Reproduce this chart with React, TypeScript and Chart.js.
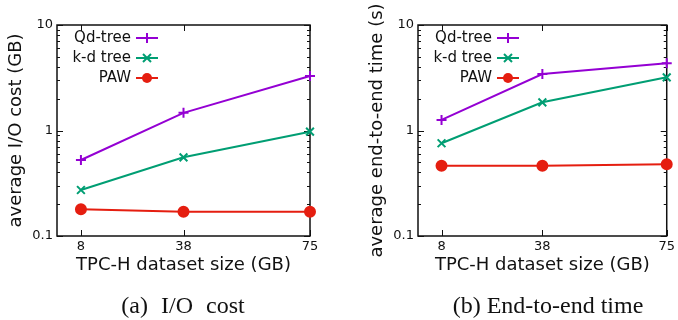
import React, { useEffect, useRef } from "react";
import { Chart, registerables } from "chart.js";
Chart.register(...registerables);

const sizes = [8, 38, 75];
const xTickValues = [8, 38, 75];
const yTickValues = [0.1, 1, 10];
const seriesNames = ["Qd-tree", "k-d tree", "PAW"];
const ioQd = [0.525, 1.47, 3.29];
const ioKd = [0.273, 0.557, 0.975];
const ioPaw = [0.179, 0.17, 0.17];
const timeQd = [1.26, 3.43, 4.33];
const timeKd = [0.757, 1.85, 3.19];
const timePaw = [0.464, 0.464, 0.478];
const colors = ["#9400D3", "#009E73", "#E51E10"];
const pointStyles = ["cross", "crossRot", "circle"];

const SANS = "'DejaVu Sans', sans-serif";
const SERIF = "'Liberation Serif', 'Times New Roman', serif";

type PanelProps = {
  canvasLeft: number;
  chartLeft: number;
  chartRight: number;
  yTitle: string;
  series: number[][];
};

function Panel({ canvasLeft, chartLeft, chartRight, yTitle, series }: PanelProps) {
  const ref = useRef<HTMLCanvasElement | null>(null);
  useEffect(() => {
    if (!ref.current) return;
    const W = 339;
    const H = 320;
    const top = 25;
    const bottom = 236;
    const xH = 40;
    const yW = 57;
    const framePlugin = {
      id: "frame",
      beforeDatasetsDraw(chart: any) {
        const { ctx, chartArea: ca } = chart;
        const ys = chart.scales.y;
        const xs = chart.scales.x;
        ctx.save();
        ctx.strokeStyle = "#111";
        ctx.lineWidth = 1;
        for (const d of [0.1, 1]) {
          for (let m = 2; m <= 9; m++) {
            const py = Math.round(ys.getPixelForValue(m * d)) + 0.5;
            ctx.beginPath();
            ctx.moveTo(ca.left, py);
            ctx.lineTo(ca.left + 3, py);
            ctx.moveTo(ca.right, py);
            ctx.lineTo(ca.right - 3, py);
            ctx.stroke();
          }
        }
        for (const v of yTickValues) {
          const py = Math.round(ys.getPixelForValue(v)) + 0.5;
          ctx.beginPath();
          ctx.moveTo(ca.left, py);
          ctx.lineTo(ca.left + 6, py);
          ctx.moveTo(ca.right, py);
          ctx.lineTo(ca.right - 6, py);
          ctx.stroke();
        }
        for (const v of xTickValues) {
          const px = Math.round(xs.getPixelForValue(v)) + 0.5;
          ctx.beginPath();
          ctx.moveTo(px, ca.bottom);
          ctx.lineTo(px, ca.bottom - 6);
          ctx.moveTo(px, ca.top);
          ctx.lineTo(px, ca.top + 6);
          ctx.stroke();
        }
        ctx.lineWidth = 1.5;
        ctx.strokeStyle = "#111";
        ctx.strokeRect(ca.left, ca.top, ca.right - ca.left, ca.bottom - ca.top);
        ctx.restore();
      },
      afterDatasetsDraw(chart: any) {
        const { ctx, chartArea: ca } = chart;
        ctx.save();
        ctx.font = `15px ${SANS}`;
        ctx.textAlign = "right";
        ctx.textBaseline = "middle";
        seriesNames.forEach((name, i) => {
          const y = ca.top + 13 + i * 20;
          ctx.fillStyle = "#111";
          ctx.fillText(name, ca.left + 74, y);
          ctx.strokeStyle = colors[i];
          ctx.lineWidth = 2;
          ctx.beginPath();
          ctx.moveTo(ca.left + 79, y);
          ctx.lineTo(ca.left + 101, y);
          ctx.stroke();
          const cx = ca.left + 90;
          if (i === 0) {
            ctx.beginPath();
            ctx.moveTo(cx - 5, y);
            ctx.lineTo(cx + 5, y);
            ctx.moveTo(cx, y - 5);
            ctx.lineTo(cx, y + 5);
            ctx.stroke();
          } else if (i === 1) {
            const r = 4;
            ctx.beginPath();
            ctx.moveTo(cx - r, y - r);
            ctx.lineTo(cx + r, y + r);
            ctx.moveTo(cx - r, y + r);
            ctx.lineTo(cx + r, y - r);
            ctx.stroke();
          } else {
            ctx.fillStyle = colors[i];
            ctx.beginPath();
            ctx.arc(cx, y, 5, 0, Math.PI * 2);
            ctx.fill();
          }
        });
        ctx.restore();
      },
    };

    const chart = new Chart(ref.current, {
      type: "line",
      data: {
        datasets: series.map((vals, i) => ({
          label: seriesNames[i],
          data: sizes.map((s, j) => ({ x: s, y: vals[j] })),
          borderColor: colors[i],
          backgroundColor: colors[i],
          borderWidth: 2,
          pointStyle: pointStyles[i] as any,
          pointRadius: i === 2 ? 5 : i === 1 ? 5.5 : 5,
          pointBorderWidth: 2,
          pointBackgroundColor: colors[i],
          pointBorderColor: colors[i],
          clip: false as any,
          tension: 0,
        })),
      },
      options: {
        animation: false,
        responsive: false,
        events: [],
        layout: {
          padding: {
            left: chartLeft - yW,
            right: W - chartRight,
            top: top,
            bottom: H - bottom - xH,
          },
        },
        plugins: { legend: { display: false }, tooltip: { enabled: false } },
        scales: {
          x: {
            type: "linear",
            min: 1,
            max: 75,
            grid: { display: false, drawTicks: false, tickLength: 0 },
            border: { display: false },
            afterBuildTicks: (s: any) => {
              s.ticks = xTickValues.map((v) => ({ value: v }));
            },
            afterFit: (s: any) => {
              s.height = xH;
            },
            ticks: {
              autoSkip: false,
              maxRotation: 0,
              padding: 3,
              color: "#111",
              font: { family: SANS, size: 13 },
              callback: (v: any) => String(v),
            },
            title: {
              display: true,
              text: "TPC-H dataset size (GB)",
              color: "#111",
              font: { family: SANS, size: 18, lineHeight: 1.2 },
              padding: { top: 0, bottom: 0 },
            },
          },
          y: {
            type: "logarithmic",
            min: 0.1,
            max: 10,
            grid: { display: false, drawTicks: false, tickLength: 0 },
            border: { display: false },
            afterBuildTicks: (s: any) => {
              s.ticks = yTickValues.map((v) => ({ value: v }));
            },
            afterFit: (s: any) => {
              s.width = yW;
            },
            ticks: {
              autoSkip: false,
              padding: 4,
              color: "#111",
              font: { family: SANS, size: 13 },
              callback: (v: any) => String(v),
            },
            title: {
              display: true,
              text: yTitle,
              color: "#111",
              font: { family: SANS, size: 18, lineHeight: 1.2 },
              padding: { top: 6, bottom: 0 },
            },
          },
        },
      },
      plugins: [framePlugin],
    });
    return () => chart.destroy();
  }, []);
  return (
    <canvas
      ref={ref}
      width={339}
      height={320}
      style={{ position: "absolute", left: canvasLeft, top: 0, width: 339, height: 320 }}
    />
  );
}

const captionStyle: React.CSSProperties = {
  position: "absolute",
  top: 292,
  textAlign: "center",
  fontFamily: SERIF,
  fontSize: 24,
  lineHeight: "26px",
  color: "#111",
  whiteSpace: "nowrap",
};

export default function App() {
  return (
    <div
      style={{
        position: "absolute",
        left: 0,
        top: 0,
        width: 678,
        height: 320,
        background: "#fff",
        overflow: "hidden",
      }}
    >
      <Panel canvasLeft={0} chartLeft={57} chartRight={310} yTitle="average I/O cost (GB)" series={[ioQd, ioKd, ioPaw]} />
      <Panel canvasLeft={339} chartLeft={79} chartRight={331} yTitle="average end-to-end time (s)" series={[timeQd, timeKd, timePaw]} />
      <div style={{ ...captionStyle, left: 83, width: 200, wordSpacing: "7px" }}>(a) I/O cost</div>
      <div style={{ ...captionStyle, left: 398, width: 300 }}>(b) End-to-end time</div>
    </div>
  );
}
